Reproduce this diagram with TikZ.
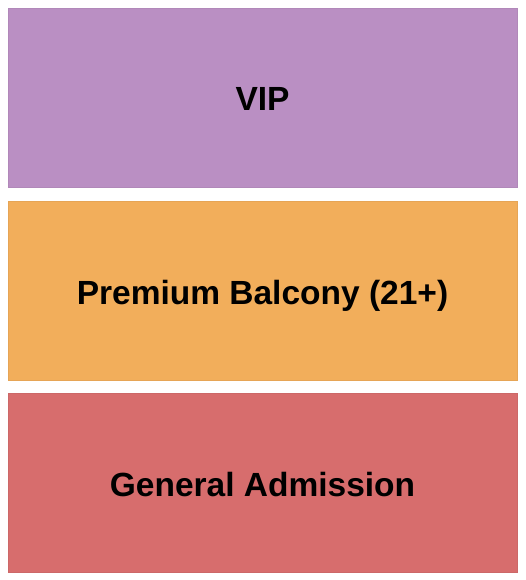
\documentclass[tikz,border=0pt]{standalone}
\usepackage{fontspec}
\setmainfont{Liberation Sans}
\usepackage{xcolor}
\definecolor{vipcol}{HTML}{BA8FC3}
\definecolor{balccol}{HTML}{F2AE5B}
\definecolor{gacol}{HTML}{D76D6D}
\begin{document}
\begin{tikzpicture}[x=1pt,y=-1pt,
    section/.style={rectangle, minimum width=509pt, minimum height=179pt,
        inner sep=0pt, line width=.5pt, text height=24pt, text depth=0pt,
        font=\fontsize{33.5}{40}\selectfont\bfseries, text=black}]
    \useasboundingbox (0,0) rectangle (525,580);
    \node[section, fill=vipcol, draw=vipcol!95!black] (vip) at (262.5,97.5) {};
    \node[section, fill=balccol, draw=balccol!95!black] (balcony) at (262.5,290.5) {};
    \node[section, fill=gacol, draw=gacol!95!black] (ga) at (262.5,482.5) {};
    % labels
    \node[section, draw=none, yshift=-1.5pt] at (vip) {VIP};
    \node[section, draw=none, yshift=-1.5pt] at (balcony) {Premium Balcony (21+)};
    \node[section, draw=none, yshift=-1.5pt] at (ga) {General Admission};
\end{tikzpicture}
\end{document}
